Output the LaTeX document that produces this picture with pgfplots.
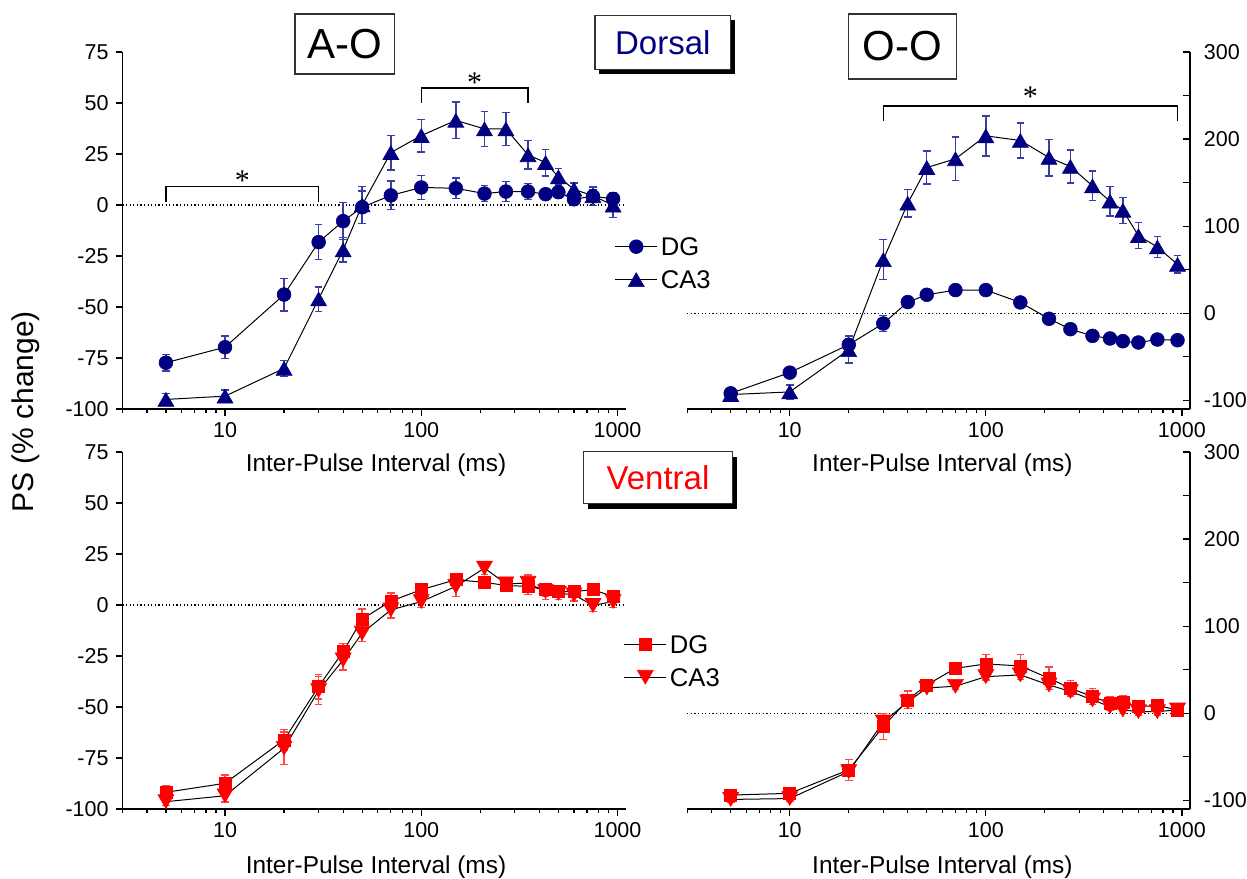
\documentclass[border=0pt]{standalone}
\usepackage{fontspec}
\setmainfont{Liberation Sans}
\newfontfamily\seriffont{Liberation Serif}
\usepackage{pgfplots}
\usepackage{pgfplotstable}
\pgfplotsset{compat=1.18}
\definecolor{navy}{RGB}{0,0,128}
\definecolor{errnavy}{RGB}{60,60,165}
\definecolor{pred}{RGB}{255,0,0}
\definecolor{errred}{RGB}{255,70,70}

% ---------- data: x = inter-pulse interval (ms), y = PS % change, e = error ----------
\pgfplotstableread{
x y e
5 -77.3 4
10 -69.7 5.4
20 -43.9 8
30 -18.2 8.6
40 -7.9 9
50 -1.1 8
70 4.7 7
100 8.6 6
150 8.2 5
210 5.6 4
270 6.6 5
350 6.6 4
430 5.3 2
500 6.3 3
600 2.8 3
750 4.3 4.5
950 3.0 3
}\AODorsalDG
\pgfplotstableread{
x y e
5 -95.3 3
10 -93.7 3
20 -80.1 4
30 -46.1 6
40 -22.0 6
50 0.0 9
70 25.7 8.5
100 34.0 8
150 41.5 9
210 37.3 8.5
270 37.3 8
350 24.6 7
430 20.8 6.5
500 13.8 4
600 7.7 3
750 4.5 3
950 -0.1 6
}\AODorsalCA
\pgfplotstableread{
x y e
5 -92 4
10 -68.2 3
20 -36.1 10
30 -11.8 9
40 12.8 3
50 21.2 3
70 26.6 3
100 26.6 3
150 12.4 3
210 -6.4 3
270 -18.3 3
350 -26 3
430 -29 3
500 -32.1 3
600 -33.6 3
750 -30.2 3
950 -31 3
}\OODorsalDG
\pgfplotstableread{
x y e
5 -93.4 5
10 -90.4 8
20 -42 15
30 61.5 23
40 126.3 16
50 167.3 19
70 177.3 25
100 203.7 23
150 198.4 20
210 178.8 21
270 168.5 19
350 146.2 17
430 128.6 17
500 118.2 15
600 89.1 15
750 76 12
950 56.1 10
}\OODorsalCA
\pgfplotstableread{
x y e
5 -91.8 3
10 -87.4 4
20 -66.1 5
30 -40.0 6
40 -22.8 4
50 -6.9 5
70 1.9 4
100 7.5 3
150 12.4 3
210 11.1 3
270 9.6 3
350 9.1 4
430 7.5 3
500 6.6 3
600 6.6 3
750 7.5 2
950 4.2 3
}\AOVentralDG
\pgfplotstableread{
x y e
5 -96.4 2
10 -93.5 3
20 -70.2 8
30 -41.9 7
40 -26.9 5
50 -13.8 4
70 -2.4 4
100 1.7 3
150 9.1 5
210 18.1 3
270 10.4 3
350 10.7 4
430 6.6 4
500 5.8 3
600 5.0 3
750 -0.2 3
950 1.7 3
}\AOVentralCA
\pgfplotstableread{
x y e
5 -94 5
10 -92 6
20 -65 12
30 -15.3 15
40 15.3 10
50 32.5 6
70 51.6 6
100 56.6 11
150 54.3 13
210 40.2 13
270 28.7 9
350 19.1 9
430 11.5 7
500 12.2 8
600 7.6 5
750 8.8 5
950 3.8 5
}\OOVentralDG
\pgfplotstableread{
x y e
5 -99 3
10 -98 3
20 -67 5
30 -10 5
40 13 5
50 29 4
70 31 4
100 42 4
150 44 5
210 32.5 5
270 25 5
350 15.3 5
430 7.6 4
500 3.8 4
600 1.9 4
750 1.9 4
950 3.8 4
}\OOVentralCA

\begin{document}
\begin{tikzpicture}
\path[use as bounding box] (0,0) rectangle (623.5pt,-439pt);

% ---------------- top left: A-O dorsal ----------------
\begin{axis}[at={(61.2pt,-204.5pt)}, anchor=south west,
  scale only axis, xmode=log, xmin=3, xmax=1100, width=251.6pt, height=178.5pt,
  ymin=-100, ymax=75, axis x line*=bottom, axis y line*=left,
  xtick={10,100,1000}, xticklabels={10,100,1000},
  minor xtick={3,4,5,6,7,8,9,20,30,40,50,60,70,80,90,200,300,400,500,600,700,800,900},
  ytick={-100,-75,-50,-25,0,25,50,75}, yticklabels={-100,-75,-50,-25,0,25,50,75},
  tick align=outside, tick style={black, line width=0.6pt},
  major tick length=3.4pt, minor tick length=2pt,
  ticklabel style={font=\fontsize{10.75}{12}\selectfont},
  axis line style={line width=0.6pt, black}, clip=false,
  legend style={draw=none, fill=none, inner sep=0pt, outer sep=0pt,
    font=\fontsize{12.8}{14}\selectfont, row sep=4.3pt, cells={anchor=west},
    nodes={inner sep=1.5pt, text height=9.2pt, text depth=0pt},
    at={(0.978,0.4085)}, anchor=west},
  legend image code/.code={\draw[mark repeat=2,mark phase=2,#1] plot coordinates {(0pt,0pt) (10.6pt,0pt) (21.2pt,0pt)};}]
\addplot[black, line width=0.6pt, dash pattern=on 0.6pt off 1.2pt, forget plot] coordinates {(3,0) (1100,0)};
\addplot[black, line width=0.5pt, mark=*, mark size=3.45pt,
  mark options={draw=navy, fill=navy, solid, line width=0.3pt},
  error bars/.cd, y dir=both, y explicit, error bar style={errnavy, line width=0.7pt},
  error mark options={rotate=90, errnavy, mark size=1.9pt, line width=0.7pt}]
  table[x=x,y=y,y error=e]{\AODorsalDG};
\addlegendentry{DG}
\addplot[black, line width=0.5pt, mark=triangle*, mark size=4.6pt,
  mark options={yshift=-1.15pt, draw=navy, fill=navy, solid, line width=0.3pt},
  error bars/.cd, y dir=both, y explicit, error bar style={errnavy, line width=0.7pt},
  error mark options={rotate=90, errnavy, mark size=1.9pt, line width=0.7pt}]
  table[x=x,y=y,y error=e]{\AODorsalCA};
\addlegendentry{CA3}
\draw[black, line width=0.7pt] (axis cs:5,1.5) -- (axis cs:5,9.2) -- (axis cs:30,9.2) -- (axis cs:30,1.5);
\node[font=\seriffont\fontsize{15}{15}\selectfont, anchor=north, inner sep=0pt] at (axis cs:12.25,17.1) {*};
\draw[black, line width=0.7pt] (axis cs:100,50) -- (axis cs:100,57.4) -- (axis cs:350,57.4) -- (axis cs:350,50);
\node[font=\seriffont\fontsize{15}{15}\selectfont, anchor=north, inner sep=0pt] at (axis cs:187,65.2) {*};
\end{axis}

% ---------------- top right: O-O dorsal ----------------
\begin{axis}[at={(343.6pt,-204.5pt)}, anchor=south west,
  scale only axis, xmode=log, xmin=3, xmax=1100, width=251.4pt, height=178.5pt,
  ymin=-110, ymax=300, axis x line*=bottom, axis y line*=right,
  xtick={10,100,1000}, xticklabels={10,100,1000},
  minor xtick={3,4,5,6,7,8,9,20,30,40,50,60,70,80,90,200,300,400,500,600,700,800,900},
  ytick={-100,-50,0,50,100,150,200,250,300}, yticklabels={-100,,0,,100,,200,,300},
  tick align=outside, tick style={black, line width=0.6pt},
  ytick style={xshift=-3.4pt},
  major tick length=3.4pt, minor tick length=2pt,
  ticklabel style={font=\fontsize{10.75}{12}\selectfont},
  axis line style={line width=0.6pt, black}, clip=false]
\addplot[black, line width=0.6pt, dash pattern=on 0.6pt off 1.2pt, forget plot] coordinates {(3,0) (1100,0)};
\addplot[black, line width=0.5pt, mark=*, mark size=3.45pt,
  mark options={draw=navy, fill=navy, solid, line width=0.3pt},
  error bars/.cd, y dir=both, y explicit, error bar style={errnavy, line width=0.7pt},
  error mark options={rotate=90, errnavy, mark size=1.9pt, line width=0.7pt}]
  table[x=x,y=y,y error=e]{\OODorsalDG};
\addplot[black, line width=0.5pt, mark=triangle*, mark size=4.6pt,
  mark options={yshift=-1.15pt, draw=navy, fill=navy, solid, line width=0.3pt},
  error bars/.cd, y dir=both, y explicit, error bar style={errnavy, line width=0.7pt},
  error mark options={rotate=90, errnavy, mark size=1.9pt, line width=0.7pt}]
  table[x=x,y=y,y error=e]{\OODorsalCA};
\draw[black, line width=0.7pt] (axis cs:30,221.3) -- (axis cs:30,238.2) -- (axis cs:950,238.2) -- (axis cs:950,221.3);
\node[font=\seriffont\fontsize{15}{15}\selectfont, anchor=north, inner sep=0pt] at (axis cs:168.8,260.4) {*};
\end{axis}

% ---------------- bottom left: A-O ventral ----------------
\begin{axis}[at={(61.2pt,-404.5pt)}, anchor=south west,
  scale only axis, xmode=log, xmin=3, xmax=1100, width=251.6pt, height=178.5pt,
  ymin=-100, ymax=75, axis x line*=bottom, axis y line*=left,
  xtick={10,100,1000}, xticklabels={10,100,1000},
  minor xtick={3,4,5,6,7,8,9,20,30,40,50,60,70,80,90,200,300,400,500,600,700,800,900},
  ytick={-100,-75,-50,-25,0,25,50,75}, yticklabels={-100,-75,-50,-25,0,25,50,75},
  tick align=outside, tick style={black, line width=0.6pt},
  major tick length=3.4pt, minor tick length=2pt,
  ticklabel style={font=\fontsize{10.75}{12}\selectfont},
  axis line style={line width=0.6pt, black}, clip=false,
  legend style={draw=none, fill=none, inner sep=0pt, outer sep=0pt,
    font=\fontsize{12.8}{14}\selectfont, row sep=4.3pt, cells={anchor=west},
    nodes={inner sep=1.5pt, text height=9.2pt, text depth=0pt},
    at={(0.996,0.4155)}, anchor=west},
  legend image code/.code={\draw[mark repeat=2,mark phase=2,#1] plot coordinates {(0pt,0pt) (10.6pt,0pt) (21.2pt,0pt)};}]
\addplot[black, line width=0.6pt, dash pattern=on 0.6pt off 1.2pt, forget plot] coordinates {(3,0) (1100,0)};
\addplot[black, line width=0.5pt, mark=square*, mark size=3pt,
  mark options={draw=pred, fill=pred, solid, line width=0.3pt},
  error bars/.cd, y dir=both, y explicit, error bar style={errred, line width=0.7pt},
  error mark options={rotate=90, errred, mark size=1.9pt, line width=0.7pt}]
  table[x=x,y=y,y error=e]{\AOVentralDG};
\addlegendentry{DG}
\addplot[black, line width=0.5pt, mark=triangle*, mark size=4.6pt,
  mark options={yshift=1.15pt, rotate=180, draw=pred, fill=pred, solid, line width=0.3pt},
  error bars/.cd, y dir=both, y explicit, error bar style={errred, line width=0.7pt},
  error mark options={rotate=90, errred, mark size=1.9pt, line width=0.7pt}]
  table[x=x,y=y,y error=e]{\AOVentralCA};
\addlegendentry{CA3}
\end{axis}

% ---------------- bottom right: O-O ventral ----------------
\begin{axis}[at={(343.6pt,-404.5pt)}, anchor=south west,
  scale only axis, xmode=log, xmin=3, xmax=1100, width=251.4pt, height=178.5pt,
  ymin=-110, ymax=300, axis x line*=bottom, axis y line*=right,
  xtick={10,100,1000}, xticklabels={10,100,1000},
  minor xtick={3,4,5,6,7,8,9,20,30,40,50,60,70,80,90,200,300,400,500,600,700,800,900},
  ytick={-100,-50,0,50,100,150,200,250,300}, yticklabels={-100,,0,,100,,200,,300},
  tick align=outside, tick style={black, line width=0.6pt},
  ytick style={xshift=-3.4pt},
  major tick length=3.4pt, minor tick length=2pt,
  ticklabel style={font=\fontsize{10.75}{12}\selectfont},
  axis line style={line width=0.6pt, black}, clip=false]
\addplot[black, line width=0.6pt, dash pattern=on 0.6pt off 1.2pt, forget plot] coordinates {(3,0) (1100,0)};
\addplot[black, line width=0.5pt, mark=square*, mark size=3pt,
  mark options={draw=pred, fill=pred, solid, line width=0.3pt},
  error bars/.cd, y dir=both, y explicit, error bar style={errred, line width=0.7pt},
  error mark options={rotate=90, errred, mark size=1.9pt, line width=0.7pt}]
  table[x=x,y=y,y error=e]{\OOVentralDG};
\addplot[black, line width=0.5pt, mark=triangle*, mark size=4.6pt,
  mark options={yshift=1.15pt, rotate=180, draw=pred, fill=pred, solid, line width=0.3pt},
  error bars/.cd, y dir=both, y explicit, error bar style={errred, line width=0.7pt},
  error mark options={rotate=90, errred, mark size=1.9pt, line width=0.7pt}]
  table[x=x,y=y,y error=e]{\OOVentralCA};
\end{axis}

% ---------------- labels and boxes ----------------
\node[rotate=90, font=\fontsize{15}{18}\selectfont] at (13pt,-206pt) {PS (\% change)};
\foreach \xx in {188pt,471.2pt}{
  \node[anchor=base, font=\fontsize{12.2}{14}\selectfont] at (\xx,-235.85pt) {Inter-Pulse Interval (ms)};
  \node[anchor=base, font=\fontsize{12.2}{14}\selectfont] at (\xx,-436.5pt) {Inter-Pulse Interval (ms)};
}
\node[draw=black!80, line width=0.6pt, fill=white, minimum width=49.65pt, minimum height=30pt, inner sep=0pt, font=\fontsize{21}{21}\selectfont] at (172.3pt,-22pt) {A-O};
\node[draw=black!80, line width=0.6pt, fill=white, minimum width=54.2pt, minimum height=32.5pt, inner sep=0pt, font=\fontsize{21}{21}\selectfont] at (451.25pt,-23.25pt) {O-O};
\fill[black] (299.7pt,-10.05pt) rectangle (367.55pt,-36.85pt);
\node[draw=black!80, line width=0.6pt, fill=white, minimum width=67.85pt, minimum height=26.8pt, inner sep=0pt, font=\fontsize{16.5}{18}\selectfont, text=navy] at (331.4pt,-21.25pt) {Dorsal};
\fill[black] (293.95pt,-228.65pt) rectangle (368.65pt,-254.45pt);
\node[draw=black!80, line width=0.6pt, fill=white, minimum width=74.7pt, minimum height=25.8pt, inner sep=0pt, font=\fontsize{16.5}{18}\selectfont, text=pred] at (329pt,-238.75pt) {Ventral};
\end{tikzpicture}
\end{document}
